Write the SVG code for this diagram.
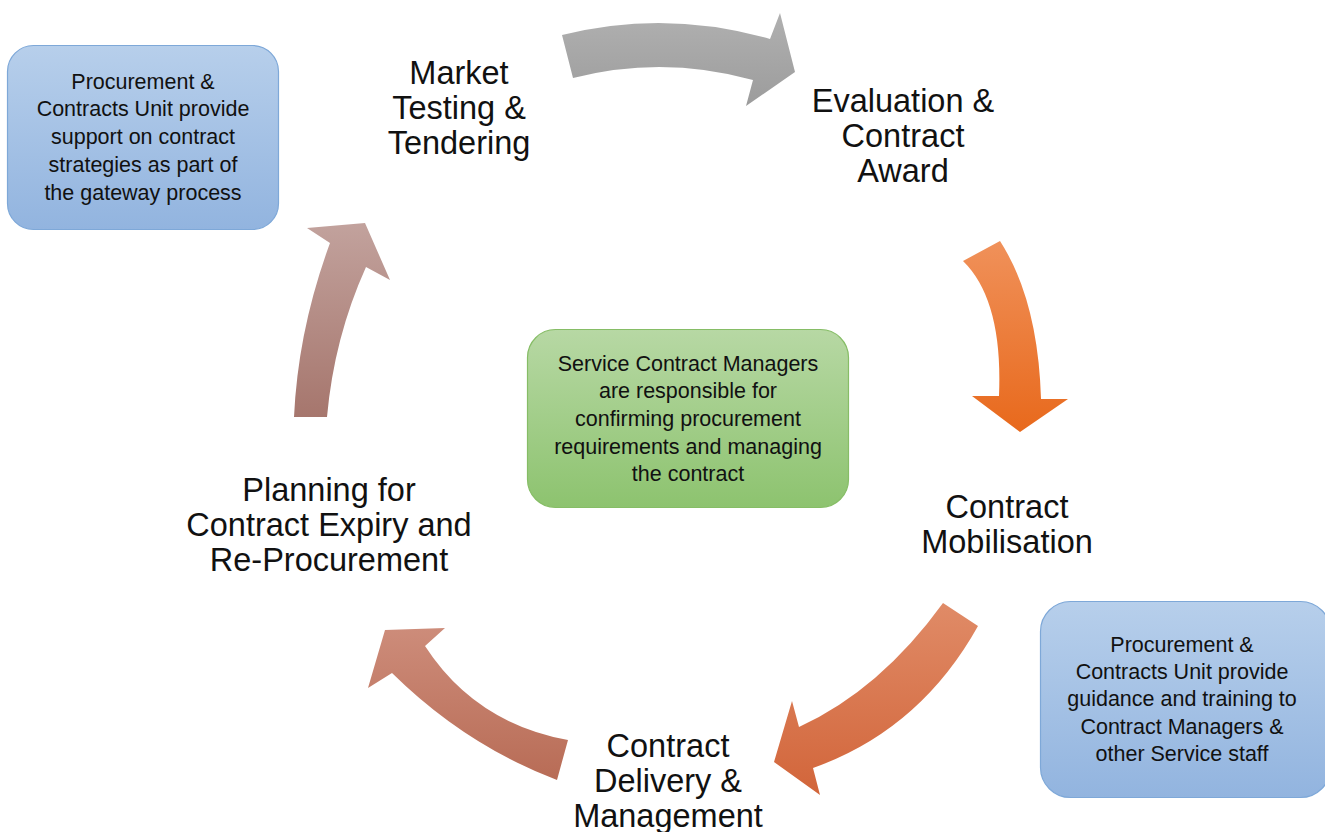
<svg xmlns="http://www.w3.org/2000/svg" width="1325" height="832" viewBox="0 0 1325 832">
<style>
.lbl{font-family:"Liberation Sans",Arial,sans-serif;font-size:32.5px;fill:#111;text-anchor:middle}
.box{font-family:"Liberation Sans",Arial,sans-serif;font-size:21.5px;fill:#111;text-anchor:middle}
</style>
<defs>
<linearGradient id="gBlue" x1="0" y1="0" x2="0" y2="1"><stop offset="0" stop-color="#b7cfeb"/><stop offset="1" stop-color="#92b4df"/></linearGradient>
<linearGradient id="gGreen" x1="0" y1="0" x2="0" y2="1"><stop offset="0" stop-color="#b7d8a4"/><stop offset="1" stop-color="#8dc36f"/></linearGradient>
<linearGradient id="gA1" x1="0" y1="0" x2="0" y2="1"><stop offset="0" stop-color="#b0b0b0"/><stop offset="1" stop-color="#9c9c9c"/></linearGradient>
<linearGradient id="gA2" x1="0" y1="0" x2="0" y2="1"><stop offset="0" stop-color="#f0915a"/><stop offset="1" stop-color="#e8691c"/></linearGradient>
<linearGradient id="gA3" x1="0" y1="0" x2="0" y2="1"><stop offset="0" stop-color="#e08b67"/><stop offset="1" stop-color="#d2653a"/></linearGradient>
<linearGradient id="gA4" x1="0" y1="0" x2="0" y2="1"><stop offset="0" stop-color="#cd8c7a"/><stop offset="1" stop-color="#b86c56"/></linearGradient>
<linearGradient id="gA5" x1="0" y1="0" x2="0" y2="1"><stop offset="0" stop-color="#c2a29d"/><stop offset="1" stop-color="#a6766d"/></linearGradient>
</defs>
<rect width="1325" height="832" fill="#ffffff"/>
<g id="connectors">
<path d="M562,35 Q666,9 770,39 L780,13 L795,72 L746,106 L753,80 Q663,55 573,78 Z" fill="url(#gA1)"/>
<path d="M963,261 L1000,241 Q1038,300 1041,399 L1068,399 L1020,432 L972,396 L999,396 Q1003,300 963,261 Z" fill="url(#gA2)"/>
<path d="M943,603 L978,626 Q920,730 813,768 L820,795 L774,762 L792,701 L799,727 Q880,690 943,603 Z" fill="url(#gA3)"/>
<path d="M568,740 L557,780 Q465,745 392,673 L368,688 L385,630 L445,628 L425,646 Q475,723 568,740 Z" fill="url(#gA4)"/>
<path d="M294,417 L327,417 Q334,338 366,267 L390,280 L365,223 L307,228 L330,243 Q298,330 294,417 Z" fill="url(#gA5)"/>
</g>
<g id="market">
<text class="lbl" x="459" y="84">Market</text>
<text class="lbl" x="459" y="119">Testing &amp;</text>
<text class="lbl" x="459" y="154">Tendering</text>
</g>
<g id="evaluation">
<text class="lbl" x="903" y="112">Evaluation &amp;</text>
<text class="lbl" x="903" y="147">Contract</text>
<text class="lbl" x="903" y="182">Award</text>
</g>
<g id="mobilisation">
<text class="lbl" x="1007" y="518">Contract</text>
<text class="lbl" x="1007" y="553">Mobilisation</text>
</g>
<g id="delivery">
<text class="lbl" x="668" y="757">Contract</text>
<text class="lbl" x="668" y="792">Delivery &amp;</text>
<text class="lbl" x="668" y="827">Management</text>
</g>
<g id="planning">
<text class="lbl" x="329" y="501">Planning for</text>
<text class="lbl" x="329" y="536">Contract Expiry and</text>
<text class="lbl" x="329" y="571">Re-Procurement</text>
</g>
<g id="pcu-support">
<rect x="7.5" y="45.5" width="271" height="184" rx="26" fill="url(#gBlue)" stroke="#7ea8d8" stroke-width="1.2"/>
<text class="box" x="143" y="89">Procurement &amp;</text>
<text class="box" x="143" y="116">Contracts Unit provide</text>
<text class="box" x="143" y="144">support on contract</text>
<text class="box" x="143" y="172">strategies as part of</text>
<text class="box" x="143" y="200">the gateway process</text>
</g>
<g id="service-managers">
<rect x="527.5" y="329.5" width="321" height="178" rx="28" fill="url(#gGreen)" stroke="#86bd66" stroke-width="1.2"/>
<text class="box" x="688" y="371">Service Contract Managers</text>
<text class="box" x="688" y="398">are responsible for</text>
<text class="box" x="688" y="426">confirming procurement</text>
<text class="box" x="688" y="454">requirements and managing</text>
<text class="box" x="688" y="481">the contract</text>
</g>
<g id="pcu-guidance">
<rect x="1040.5" y="601.5" width="290" height="196" rx="30" fill="url(#gBlue)" stroke="#7ea8d8" stroke-width="1.2"/>
<text class="box" x="1182" y="652">Procurement &amp;</text>
<text class="box" x="1182" y="679">Contracts Unit provide</text>
<text class="box" x="1182" y="706">guidance and training to</text>
<text class="box" x="1182" y="734">Contract Managers &amp;</text>
<text class="box" x="1182" y="761">other Service staff</text>
</g>
</svg>
